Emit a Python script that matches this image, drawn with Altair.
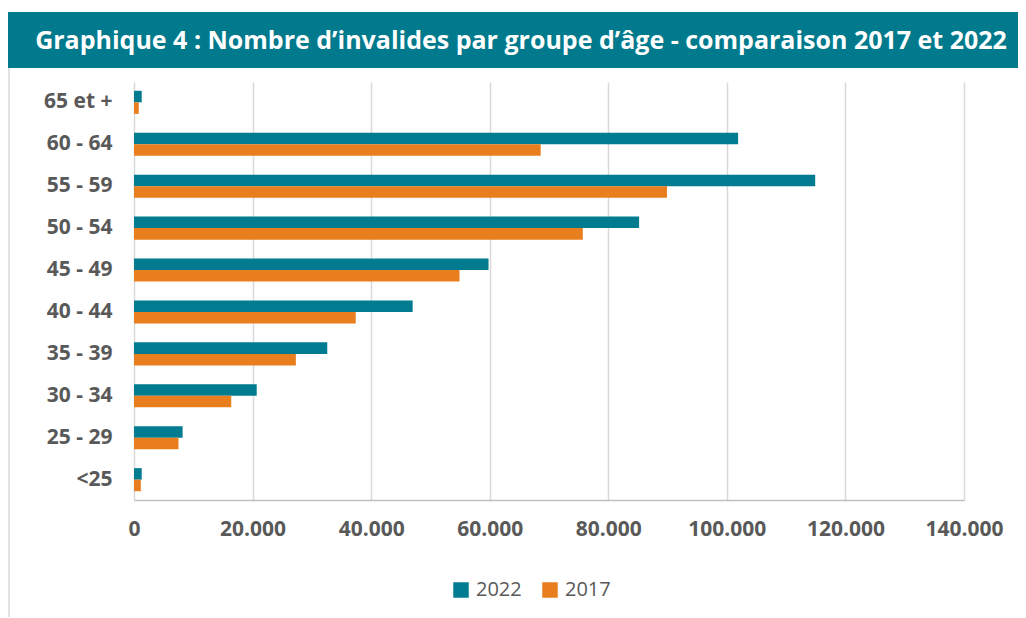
import altair as alt
import pandas as pd

TITLE = ["Graphique 4 : Nombre d\u2019invalides par groupe d\u2019\u00e2ge - comparaison 2017 et 2022"]
categories = ["65 et +", "60 - 64", "55 - 59", "50 - 54", "45 - 49",
              "40 - 44", "35 - 39", "30 - 34", "25 - 29", "<25"]
values_2022 = [1300, 101900, 114900, 85200, 59800, 47000, 32600, 20700, 8200, 1300]
values_2017 = [800, 68600, 89900, 75700, 54900, 37400, 27300, 16400, 7500, 1150]
series = ["2022", "2017"]
colors = ["#007B8F", "#E97E1E"]
ticks = [0, 20000, 40000, 60000, 80000, 100000, 120000, 140000]

rows = []
for c, a, b in zip(categories, values_2022, values_2017):
    rows.append({"groupe": c, "annee": "2022", "valeur": a})
    rows.append({"groupe": c, "annee": "2017", "valeur": b})
df = pd.DataFrame(rows)
title_df = pd.DataFrame({"t": TITLE})

FONT = "Open Sans"
GREY = "#595959"

bars = alt.Chart(df).mark_bar().encode(
    y=alt.Y("groupe:N", sort=categories,
            scale=alt.Scale(paddingInner=0.45, paddingOuter=0.21),
            axis=alt.Axis(title=None, labelFont=FONT, labelFontSize=21, labelFontWeight="bold",
                          labelColor=GREY, labelPadding=22, ticks=False, domain=False)),
    yOffset=alt.YOffset("annee:N", sort=series),
    x=alt.X("valeur:Q", scale=alt.Scale(domain=[0, 140000], nice=False),
            axis=alt.Axis(title=None, values=ticks, labelFont=FONT, labelFontSize=21,
                          labelFontWeight="bold", labelColor=GREY, labelPadding=18,
                          labelFlush=False, labelOverlap=False,
                          ticks=False, domainColor="#BFBFBF", domainWidth=1.5,
                          gridColor="#D9D9D9", gridWidth=1.5,
                          labelExpr="replace(format(datum.value, ','), ',', '.')")),
    color=alt.Color("annee:N", sort=series,
                    scale=alt.Scale(domain=series, range=colors),
                    legend=alt.Legend(title=None, orient="none", direction="horizontal",
                                      legendX=317, legendY=498, symbolType="square",
                                      symbolSize=240, symbolStrokeWidth=0, padding=0,
                                      labelFont=FONT, labelFontSize=20, labelColor=GREY,
                                      columnPadding=18, labelOffset=5)),
)

band = alt.Chart(title_df).mark_rect(color="#007A8C").encode(
    x=alt.value(-126), x2=alt.value(884), y=alt.value(-70), y2=alt.value(-14)
)
band_text = alt.Chart(title_df).mark_text(
    font=FONT, fontSize=25, fontWeight="bold", color="white", align="center", baseline="middle"
).encode(text="t:N", x=alt.value(387), y=alt.value(-41))
border = alt.Chart(title_df).mark_rule(color="#D9D9D9", strokeWidth=1.5).encode(
    x=alt.value(-125), y=alt.value(-14), y2=alt.value(535)
)

chart = alt.layer(band, border, bars, band_text).properties(
    width=830, height=418,
    padding={"left": 0, "top": 4, "right": 0, "bottom": 0}
).configure_view(stroke=None)

chart.save("out.html", embed_options={"renderer": "svg", "actions": False})
